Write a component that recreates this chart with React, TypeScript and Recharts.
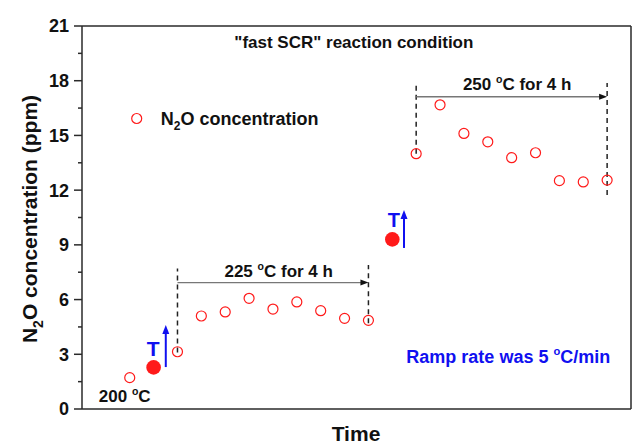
import React from 'react';
import { ComposedChart, Scatter, XAxis, YAxis, ReferenceLine, ReferenceDot, Legend } from 'recharts';

// Time index of each measurement and N2O concentration (ppm)
const openTime = [0, 2, 3, 4, 5, 6, 7, 8, 9, 10, 12, 13, 14, 15, 16, 17, 18, 19, 20];
const openN2O = [1.72, 3.14, 5.1, 5.32, 6.07, 5.48, 5.87, 5.39, 4.97, 4.86, 14.0, 16.68, 15.11, 14.65, 13.78, 14.05, 12.52, 12.45, 12.55];
const rampTime = [1, 11];
const rampN2O = [2.28, 9.3];
const yTicks = [0, 1.5, 3, 4.5, 6, 7.5, 9, 10.5, 12, 13.5, 15, 16.5, 18, 19.5, 21];

const openData = openTime.map((t, i) => ({ t, v: openN2O[i] }));
const rampData = rampTime.map((t, i) => ({ t, v: rampN2O[i] }));

const FONT = '"Liberation Sans", Arial, Helvetica, sans-serif';
const RED = '#ff1a1a';
const BLUE = '#1010f0';
const AXIS = '#2a2a2a';
const TICK_SIZE = 8;
const TICK_MARGIN = 4;

const YTick = (props: any) => {
  const { x, y, payload } = props;
  const major = Math.abs(payload.value % 3) < 1e-6;
  const ax = x + TICK_SIZE + TICK_MARGIN;
  return (
    <g>
      <line x1={ax - (major ? 8 : 4)} x2={ax} y1={y} y2={y} stroke={AXIS} strokeWidth={1.5} />
      {major && (
        <text x={x - 1} y={y} dy="0.36em" textAnchor="end" fontFamily={FONT} fontWeight="bold" fontSize={18} fill="#111">
          {payload.value}
        </text>
      )}
    </g>
  );
};

const YLabel = () => (
  <text transform="translate(37,219) rotate(-90)" textAnchor="middle" fontFamily={FONT} fontWeight="bold" fontSize={21} fill="#111">
    N<tspan fontSize={14} dy={6}>2</tspan><tspan dy={-6}>O concentration (ppm)</tspan>
  </text>
);

const XLabel = () => (
  <text x={356} y={441} textAnchor="middle" fontFamily={FONT} fontWeight="bold" fontSize={21} fill="#111">
    Time
  </text>
);

const OpenDot = (p: any) => <circle cx={p.cx} cy={p.cy} r={5} fill="none" stroke={RED} strokeWidth={1.2} />;
const FilledDot = (p: any) => <circle cx={p.cx} cy={p.cy} r={7.3} fill={RED} stroke="none" />;

const hArrow = (p: any) => (
  <g>
    <line x1={p.x1} y1={p.y1} x2={p.x2 - 6} y2={p.y2} stroke="#777" strokeWidth={1.3} />
    <polygon points={`${p.x2},${p.y2} ${p.x2 - 8},${p.y2 - 3} ${p.x2 - 8},${p.y2 + 3}`} fill="#111" />
  </g>
);

const vArrow = (p: any) => {
  const top = Math.min(p.y1, p.y2);
  const bot = Math.max(p.y1, p.y2);
  return (
    <g>
      <line x1={p.x1} y1={bot} x2={p.x1} y2={top + 6} stroke={BLUE} strokeWidth={2} />
      <polygon points={`${p.x1},${top} ${p.x1 - 3.5},${top + 9} ${p.x1 + 3.5},${top + 9}`} fill={BLUE} />
    </g>
  );
};

const textAt = (content: React.ReactNode, opts: { size: number; color?: string; anchor?: string }) => (p: any) => (
  <text x={p.cx} y={p.cy} textAnchor={(opts.anchor || 'middle') as any} fontFamily={FONT} fontWeight="bold" fontSize={opts.size} fill={opts.color || '#111'}>
    {content}
  </text>
);

const deg = (size: number) => [
  <tspan key="o" fontSize={size * 0.62} dy={-size * 0.42}>o</tspan>,
  <tspan key="c" dy={size * 0.42}>C</tspan>,
];

const LegendContent = () => (
  <svg width={200} height={22} style={{ display: 'block', overflow: 'visible' }}>
    <circle cx={5.7} cy={10.5} r={5} fill="none" stroke={RED} strokeWidth={1.2} />
    <text x={29.7} y={17} fontFamily={FONT} fontWeight="bold" fontSize={18} fill="#111">
      N<tspan fontSize={12} dy={5}>2</tspan><tspan dy={-5}>O concentration</tspan>
    </text>
  </svg>
);

const dash = { stroke: '#222', strokeWidth: 1.5, strokeDasharray: '5 4' };

export default function App() {
  return (
    <div style={{ position: 'fixed', left: 0, top: 0, width: 641, height: 448, background: '#fff' }}>
      <ComposedChart width={641} height={448} margin={{ top: 26, right: 10, bottom: 0, left: 22 }}>
        <XAxis
          type="number"
          dataKey="t"
          domain={[-2, 21]}
          allowDataOverflow
          tick={false}
          tickLine={false}
          axisLine={{ stroke: AXIS, strokeWidth: 1.5 }}
          height={39}
          label={<XLabel />}
        />
        <YAxis
          type="number"
          dataKey="v"
          domain={[0, 21]}
          ticks={yTicks}
          interval={0}
          width={60}
          tickLine={false}
          tickSize={TICK_SIZE}
          tickMargin={TICK_MARGIN}
          tick={<YTick />}
          axisLine={{ stroke: AXIS, strokeWidth: 1.5 }}
          label={<YLabel />}
        />
        <ReferenceLine y={21} stroke={AXIS} strokeWidth={1.5} />
        <ReferenceLine x={21} stroke={AXIS} strokeWidth={1.5} />

        <ReferenceLine segment={[{ x: 2, y: 3.1 }, { x: 2, y: 7.7 }]} {...dash} />
        <ReferenceLine segment={[{ x: 10, y: 4.7 }, { x: 10, y: 7.9 }]} {...dash} />
        <ReferenceLine segment={[{ x: 12, y: 14.0 }, { x: 12, y: 17.95 }]} {...dash} />
        <ReferenceLine segment={[{ x: 20, y: 11.73 }, { x: 20, y: 17.87 }]} {...dash} />
        <ReferenceLine segment={[{ x: 2, y: 6.93 }, { x: 10, y: 6.93 }]} shape={hArrow} />
        <ReferenceLine segment={[{ x: 12, y: 17.12 }, { x: 20, y: 17.12 }]} shape={hArrow} />
        <ReferenceLine segment={[{ x: 1.51, y: 2.3 }, { x: 1.51, y: 4.6 }]} shape={vArrow} />
        <ReferenceLine segment={[{ x: 11.49, y: 8.83 }, { x: 11.49, y: 10.91 }]} shape={vArrow} />

        <Scatter name="N2O concentration" data={openData} dataKey="v" shape={<OpenDot />} isAnimationActive={false} />
        <Scatter name="ramp" data={rampData} dataKey="v" shape={<FilledDot />} isAnimationActive={false} legendType="none" />

        <ReferenceDot x={9.39} y={19.81} r={0} shape={textAt('"fast SCR" reaction condition', { size: 17 })} />
        <ReferenceDot x={6.24} y={7.25} r={0} shape={textAt(['225 ', ...deg(17), ' for 4 h'], { size: 17 })} />
        <ReferenceDot x={16.23} y={17.49} r={0} shape={textAt(['250 ', ...deg(17), ' for 4 h'], { size: 17 })} />
        <ReferenceDot x={-0.21} y={0.4} r={0} shape={textAt(['200 ', ...deg(17)], { size: 17 })} />
        <ReferenceDot x={15.86} y={2.54} r={0} shape={textAt(['Ramp rate was 5 ', ...deg(18), '/min'], { size: 18, color: BLUE })} />
        <ReferenceDot x={0.98} y={2.9} r={0} shape={textAt('T', { size: 21, color: BLUE })} />
        <ReferenceDot x={11.07} y={9.99} r={0} shape={textAt('T', { size: 20, color: BLUE })} />

        <Legend
          layout="vertical"
          align="center"
          verticalAlign="middle"
          content={<LegendContent />}
          wrapperStyle={{ position: 'absolute', left: 131, top: 108, width: 200, height: 22 }}
        />
      </ComposedChart>
    </div>
  );
}
